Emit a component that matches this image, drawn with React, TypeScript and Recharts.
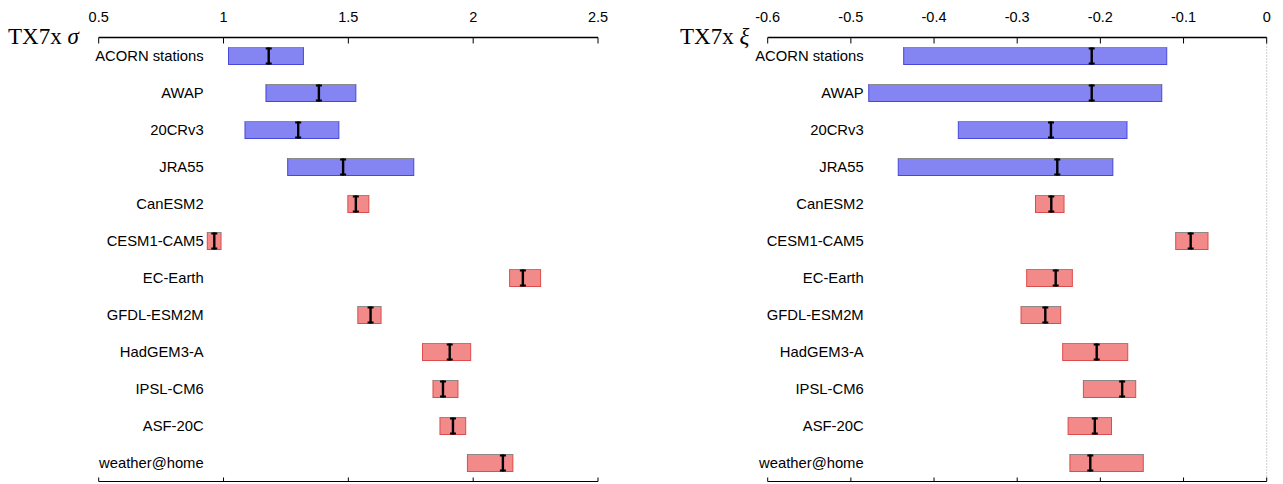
import React from 'react';
import { BarChart, Bar, XAxis, YAxis, ReferenceLine } from 'recharts';

const categories = [
  'ACORN stations', 'AWAP', '20CRv3', 'JRA55', 'CanESM2', 'CESM1-CAM5',
  'EC-Earth', 'GFDL-ESM2M', 'HadGEM3-A', 'IPSL-CM6', 'ASF-20C', 'weather@home',
];
// first N rows are observations / reanalyses (blue), the rest are models (red)
const nObs = 4;

const sigmaLow = [1.02, 1.17, 1.086, 1.257, 1.498, 0.935, 2.146, 1.538, 1.797, 1.839, 1.867, 1.977];
const sigmaMid = [1.181, 1.382, 1.299, 1.479, 1.53, 0.963, 2.199, 1.589, 1.906, 1.879, 1.919, 2.119];
const sigmaHigh = [1.32, 1.53, 1.462, 1.762, 1.582, 0.99, 2.27, 1.631, 1.99, 1.939, 1.97, 2.159];
const sigmaTicks = [0.5, 1, 1.5, 2, 2.5];

const xiLow = [-0.4365, -0.4785, -0.3708, -0.443, -0.278, -0.1094, -0.2886, -0.2954, -0.2453, -0.2204, -0.2388, -0.2366];
const xiMid = [-0.2104, -0.2104, -0.2594, -0.2518, -0.259, -0.0914, -0.2537, -0.2662, -0.2044, -0.1738, -0.2067, -0.2121];
const xiHigh = [-0.1202, -0.1262, -0.168, -0.185, -0.2437, -0.0706, -0.2337, -0.2477, -0.1671, -0.1575, -0.1866, -0.1484];
const xiTicks = [-0.6, -0.5, -0.4, -0.3, -0.2, -0.1, 0];

const SANS = '"Liberation Sans", Arial, sans-serif';
const SERIF = '"Liberation Serif", "Times New Roman", serif';

const buildRows = (low: number[], mid: number[], high: number[]) =>
  categories.map((name, i) => ({
    name,
    range: [low[i], high[i]],
    low: low[i],
    mid: mid[i],
    high: high[i],
    obs: i < nObs,
  }));

const RangeShape = (props: any) => {
  const { x, y, width, height, payload } = props;
  if (width == null || height == null) return null;
  const left = Math.min(x, x + width);
  const w = Math.abs(width);
  const mx = left + (w * (payload.mid - payload.low)) / (payload.high - payload.low);
  const fill = payload.obs ? '#8484f2' : '#f38a8a';
  const stroke = payload.obs ? '#4848d8' : '#dc4c4c';
  return (
    <g>
      <rect x={left} y={y} width={w} height={height} fill={fill} stroke={stroke} strokeWidth={1} />
      <line x1={left} x2={left + w} y1={y} y2={y} stroke="#8a8a8a" strokeWidth={1} />
      <line x1={mx} x2={mx} y1={y} y2={y + height} stroke="#000" strokeWidth={2.4} />
      <line x1={mx - 3} x2={mx + 3} y1={y + 1} y2={y + 1} stroke="#000" strokeWidth={2} />
      <line x1={mx - 3} x2={mx + 3} y1={y + height - 1} y2={y + height - 1} stroke="#000" strokeWidth={2} />
    </g>
  );
};

const TopTick = (props: any) => {
  const { x, y, payload } = props;
  return (
    <g>
      <line x1={x} x2={x} y1={y} y2={y + 6} stroke="#000" strokeWidth={1} />
      <text x={x} y={y - 16} textAnchor="middle" fontFamily={SANS} fontSize={14.5} fill="#000">
        {payload.value}
      </text>
    </g>
  );
};

const BottomTick = (props: any) => {
  const { x, y } = props;
  return <line x1={x} x2={x} y1={y} y2={y - 4} stroke="#000" strokeWidth={1} />;
};

const makeLabelTick = (offset: number) => (props: any) => {
  const { x, y, payload } = props;
  return (
    <text x={x + offset} y={y + 5} textAnchor="end" fontFamily={SANS} fontSize={14.8} fill="#000">
      {payload.value}
    </text>
  );
};

const LeftLabel = makeLabelTick(105);
const RightLabel = makeLabelTick(96);

interface PanelProps {
  data: ReturnType<typeof buildRows>;
  width: number;
  left: number;
  right: number;
  domain: [number, number];
  ticks: number[];
  Label: (p: any) => React.ReactElement;
  zeroLine?: boolean;
}

const Panel: React.FC<PanelProps> = ({ data, width, left, right, domain, ticks, Label, zeroLine }) => (
  <BarChart
    width={width}
    height={484}
    data={data}
    layout="vertical"
    margin={{ top: 36.5, right, bottom: 1.5, left: left - 1 }}
    barSize={17}
  >
    <XAxis
      xAxisId={0}
      type="number"
      orientation="top"
      domain={domain}
      ticks={ticks}
      interval={0}
      height={1}
      tickSize={0}
      tickMargin={0}
      tick={<TopTick />}
      tickLine={false}
      axisLine={{ stroke: '#000', strokeWidth: 1.3 }}
      allowDataOverflow
    />
    <XAxis
      xAxisId="b"
      type="number"
      orientation="bottom"
      domain={domain}
      ticks={ticks}
      interval={0}
      height={1}
      tickSize={0}
      tickMargin={0}
      tick={<BottomTick />}
      tickLine={false}
      axisLine={{ stroke: '#000', strokeWidth: 1 }}
      allowDataOverflow
    />
    <YAxis
      type="category"
      dataKey="name"
      width={1}
      tickSize={0}
      tickMargin={0}
      interval={0}
      axisLine={false}
      tickLine={false}
      tick={<Label />}
    />
    {zeroLine && (
      <ReferenceLine xAxisId={0} x={0} stroke="#999" strokeDasharray="1 2" strokeWidth={1} />
    )}
    <Bar xAxisId={0} dataKey="range" shape={<RangeShape />} isAnimationActive={false} />
  </BarChart>
);

const sigmaRows = buildRows(sigmaLow, sigmaMid, sigmaHigh);
const xiRows = buildRows(xiLow, xiMid, xiHigh);

export default function App() {
  return (
    <div style={{ position: 'absolute', left: 0, top: 0, width: 1283, height: 484, background: '#fff' }}>
      <div style={{ position: 'absolute', left: 0, top: 0 }}>
        <Panel
          data={sigmaRows}
          width={640}
          left={98.7}
          right={42}
          domain={[0.5, 2.5]}
          ticks={sigmaTicks}
          Label={LeftLabel}
        />
      </div>
      <div style={{ position: 'absolute', left: 640, top: 0 }}>
        <Panel
          data={xiRows}
          width={643}
          left={127.7}
          right={16.3}
          domain={[-0.6, 0]}
          ticks={xiTicks}
          Label={RightLabel}
          zeroLine
        />
      </div>
      <svg
        width={1283}
        height={484}
        style={{ position: 'absolute', left: 0, top: 0, pointerEvents: 'none' }}
      >
        <text x={8} y={44} fontFamily={SERIF} fontSize={23} fill="#000">
          TX7x <tspan fontStyle="italic">σ</tspan>
        </text>
        <text x={680} y={44} fontFamily={SERIF} fontSize={23} fill="#000">
          TX7x <tspan fontStyle="italic">ξ</tspan>
        </text>
      </svg>
    </div>
  );
}
